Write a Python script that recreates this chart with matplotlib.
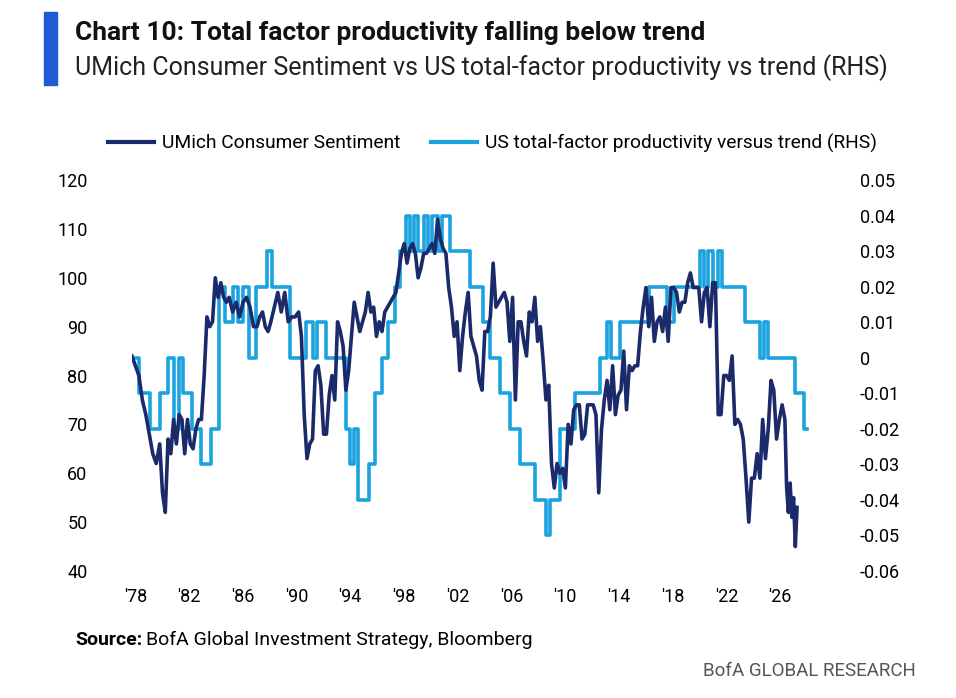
import matplotlib
matplotlib.use("Agg")
import matplotlib.pyplot as plt
import numpy as np
from matplotlib.patches import Rectangle

FONT = ['Roboto', 'DejaVu Sans']
plt.rcParams['font.family'] = FONT

# UMich consumer sentiment, readings within each year (1978..2025)
umich_by_year = [
    [84, 82, 80, 75], [72, 68, 64, 62], [66, 56, 52, 67, 64], [71, 66, 72, 71, 64],
    [71, 66, 65, 69, 71], [71, 80, 92, 90, 91], [100, 96, 99, 96, 95], [96, 93, 95, 92],
    [95, 96, 94, 90], [90, 92, 93, 90, 89], [91, 94, 97, 93], [97, 91, 92, 92],
    [93, 88, 72, 63, 66], [67, 81, 82, 78, 68], [68, 76, 80, 75, 91], [89, 86, 77, 81, 88],
    [95, 92, 89, 91, 93], [97, 93, 94, 88, 91], [89, 93, 94, 95, 96], [97, 101, 105, 107, 103],
    [106, 107, 105, 100, 102], [105, 105, 106, 107, 105], [112, 108, 106, 105, 98], [94, 88, 91, 81, 88],
    [93, 97, 88, 86, 84], [79, 77, 89, 89, 92], [103, 94, 95, 96, 97], [95, 87, 96, 75, 91],
    [91, 87, 84, 93, 91], [96, 87, 90, 83, 75], [78, 62, 57, 62, 60], [61, 57, 70, 66, 73],
    [74, 74, 67, 68, 74], [74, 74, 72, 56, 69], [75, 79, 73, 82, 72], [76, 77, 85, 73, 82],
    [81, 82, 82, 89, 94], [98, 90, 96, 87, 91], [92, 89, 94, 87, 98], [98, 97, 93, 95, 95],
    [99, 101, 98, 98, 98], [91, 97, 98, 90, 99], [99, 72, 72, 80, 80], [79, 84, 70, 71, 70],
    [67, 59, 50, 59, 59], [64, 59, 71, 63, 69], [79, 77, 67, 71, 74], [71, 57, 52, 58, 51, 55, 45, 53],
]
umich_start_year = 1978

# TFP vs trend (RHS), step series
tfp_years = [1978.1, 1978.5, 1979.3, 1980.0, 1980.6, 1981.0, 1981.4, 1981.7, 1982.3, 1983.0,
             1983.7, 1984.3, 1984.7, 1985.3, 1985.6, 1986.0, 1986.4, 1986.9, 1987.7, 1988.1,
             1988.8, 1989.4, 1990.1, 1990.5, 1991.0, 1991.3, 1992.0, 1993.4, 1993.7, 1994.0,
             1994.3, 1995.1, 1995.5, 1996.0, 1996.4, 1996.9, 1997.3, 1997.7, 1998.0, 1998.3,
             1998.6, 1999.0, 1999.3, 1999.6, 2000.0, 2000.3, 2000.9, 2002.3, 2003.3, 2003.8,
             2004.5, 2005.2, 2005.9, 2007.0, 2007.8, 2008.1, 2008.3, 2008.8, 2009.2, 2009.9,
             2010.3, 2011.7, 2012.2, 2012.5, 2013.1, 2014.6, 2015.2, 2016.0, 2016.5, 2017.0,
             2018.9, 2019.2, 2019.5, 2019.8, 2020.2, 2020.5, 2021.0, 2022.1, 2023.2, 2023.5,
             2023.8, 2025.7, 2026.4, 2026.6]
tfp_vals = [0.0, -0.01, -0.02, -0.01, 0.0, -0.02, 0.0, -0.01, -0.02, -0.03,
            -0.02, 0.02, 0.01, 0.02, 0.01, 0.02, 0.0, 0.02, 0.03, 0.02,
            0.02, 0.0, 0.0, 0.01, 0.0, 0.01, 0.0, -0.02, -0.03, -0.02,
            -0.04, -0.03, -0.01, 0.0, 0.01, 0.02, 0.03, 0.04, 0.03, 0.04,
            0.03, 0.04, 0.03, 0.04, 0.03, 0.04, 0.03, 0.02, 0.01, 0.0,
            -0.01, -0.02, -0.03, -0.04, -0.05, -0.04, -0.04, -0.02, -0.02, -0.01,
            -0.01, 0.0, 0.01, 0.0, 0.01, 0.01, 0.02, 0.02, 0.01, 0.02,
            0.03, 0.02, 0.03, 0.02, 0.03, 0.02, 0.02, 0.01, 0.0, 0.01,
            0.0, -0.01, -0.02, -0.02]

tick_labels = ["'78", "'82", "'86", "'90", "'94", "'98", "'02", "'06", "'10", "'14", "'18", "'22", "'26"]

ux, uy = [], []
for i, vals in enumerate(umich_by_year):
    n = len(vals)
    for j, v in enumerate(vals):
        ux.append(umich_start_year + i + j / n)
        uy.append(v)

NAVY = '#1b2a6b'
LIGHT = '#1aa3df'

fig = plt.figure(figsize=(9.56, 6.98), dpi=100)
ax = fig.add_axes([0.138, 0.182, 0.715, 0.560])
ax2 = ax.twinx()

ax.plot(ux, uy, color=NAVY, lw=2.6, zorder=3)
ax2.plot(tfp_years, tfp_vals, color=LIGHT, lw=2.6, drawstyle='steps-post')
ax.set_zorder(ax2.get_zorder() + 1)
ax.patch.set_visible(False)

ax.set_xlim(1978.0, 2027.2)
ax.set_ylim(40, 120)
ax2.set_ylim(-0.06, 0.05)
ax.set_yticks(range(40, 121, 10))
ax2.set_yticks(np.round(np.arange(-0.06, 0.051, 0.01), 2))
ax2.set_yticklabels(['-0.06', '-0.05', '-0.04', '-0.03', '-0.02', '-0.01', '0',
                     '0.01', '0.02', '0.03', '0.04', '0.05'])
ax.set_xticks(np.linspace(1978.25, 2024.65, len(tick_labels)))
ax.set_xticklabels(tick_labels)
for a in (ax, ax2):
    for s in a.spines.values():
        s.set_visible(False)
    a.tick_params(length=0, labelsize=13)
ax.tick_params(axis='y', pad=32)
ax.tick_params(axis='x', pad=12)
ax2.tick_params(axis='y', pad=32)

fig.legend(handles=[plt.Line2D([], [], color=NAVY, lw=3), plt.Line2D([], [], color=LIGHT, lw=3)],
           labels=['UMich Consumer Sentiment', 'US total-factor productivity versus trend (RHS)'],
           loc='center', bbox_to_anchor=(0.515, 0.795), ncol=2, frameon=False,
           fontsize=13.8, handlelength=2.4, columnspacing=1.6, handletextpad=0.4)

fig.patches.append(Rectangle((0.046, 0.878), 0.014, 0.105, transform=fig.transFigure,
                             color='#1f5bd6', zorder=5))
fig.text(0.078, 0.953, 'Chart 10: Total factor productivity falling below trend',
         fontsize=19, fontweight='bold', va='center', color='#111111')
fig.text(0.078, 0.903, 'UMich Consumer Sentiment vs US total-factor productivity vs trend (RHS)',
         fontsize=18, va='center', color='#222222')
fig.text(0.079, 0.083, 'Source:', fontsize=14, fontweight='bold', va='center')
fig.text(0.153, 0.083, 'BofA Global Investment Strategy, Bloomberg', fontsize=14, va='center')
fig.text(0.958, 0.038, 'BofA GLOBAL RESEARCH', fontsize=13.5, va='center', ha='right', color='#555555')

fig.savefig('out.png', dpi=100)
